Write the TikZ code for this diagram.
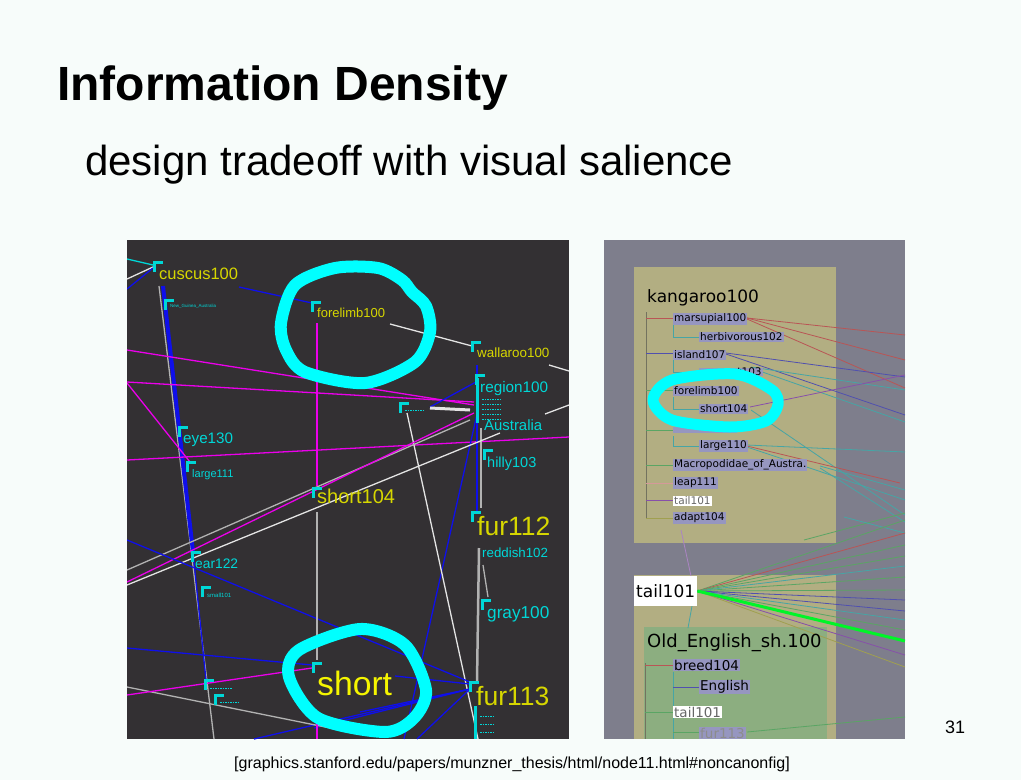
\documentclass[tikz,border=0pt]{standalone}
\usepackage{fontspec}
\setmainfont{Liberation Sans}
\newfontfamily\treefont{DejaVu Sans}
\usetikzlibrary{positioning}
\definecolor{slidebg}{RGB}{247,252,250}
\definecolor{darkpanel}{RGB}{51,48,51}
\definecolor{graypanel}{RGB}{126,126,140}
\definecolor{khaki}{RGB}{178,174,130}
\definecolor{sage}{RGB}{140,174,128}
\definecolor{lavbox}{RGB}{150,150,192}
\definecolor{ringcyan}{RGB}{0,255,255}
\definecolor{labcyan}{RGB}{0,215,215}
\definecolor{labyellow}{RGB}{215,215,0}
\definecolor{shortyellow}{RGB}{245,245,0}
\definecolor{linkblue}{RGB}{15,15,235}
\definecolor{linkpink}{RGB}{235,0,235}
\definecolor{linkwhite}{RGB}{228,228,228}
\definecolor{linkgray}{RGB}{178,178,178}
\definecolor{treered}{RGB}{185,85,85}
\definecolor{treeblue}{RGB}{80,80,175}
\definecolor{treeteal}{RGB}{70,165,165}
\definecolor{treegreen}{RGB}{90,165,100}
\definecolor{treepurple}{RGB}{135,80,170}
\definecolor{treeolive}{RGB}{160,160,80}
\definecolor{treestem}{RGB}{115,115,95}
\definecolor{hotgreen}{RGB}{0,245,40}
\tikzset{
  vlab/.style={anchor=base west,inner sep=0pt,text=#1},
  vlab/.default=labcyan,
  px/.style={font=\fontsize{#1}{#1}\selectfont},
  treelab/.style={anchor=west,fill=lavbox,inner xsep=1pt,inner ysep=0.5pt,
    font=\treefont\fontsize{10.5}{11}\selectfont,text=black},
  bigtree/.style={font=\treefont\fontsize{13.5}{14}\selectfont},
  ring/.style={draw=ringcyan,line width=12pt,line join=round},
  link/.style={draw=#1,line width=1.3pt},
  link/.default=linkblue,
  twig/.style={draw=#1,line width=0.8pt},
  twig/.default=treestem,
  % pictograms
  pics/corner/.style={code={
    \draw[labcyan,line width=3pt] (0,10) -- (0,0) -- (9,0);
  }},
}

\begin{document}
\begin{tikzpicture}[x=1pt,y=-1pt]
  \useasboundingbox (0,0) rectangle (1021,780);
  \fill[slidebg] (0,0) rectangle (1021,780);
  \node[anchor=base west,inner sep=0pt,font=\bfseries\fontsize{48}{50}\selectfont] (title) at (57,100) {Information Density};
  \node[anchor=base west,inner sep=0pt,font=\fontsize{42}{44}\selectfont] (subtitle) at (85,175) {design tradeoff with visual salience};

  % left view: dark graph
  \begin{scope}
    \clip (127,240) rectangle (569,739);
    \fill[darkpanel] (127,240) rectangle (569,739);
    \draw[link=labcyan] (127,259) -- (153,265);
    \draw[link=linkwhite] (127,279) -- (153,267);
    \draw[link] (127,289) -- (153,268);
    \draw[link=linkgray] (159,286) -- (214,739);
    \draw[linkblue,line width=4pt] (163,286) -- (193,552);
    \draw[link] (193,552) -- (206,680);
    \draw[link] (239,287) -- (312,303);
    \draw[link=linkpink] (317,323) -- (317,486);
    \draw[link=linkwhite] (390,324) -- (472,346);
    \draw[link=linkwhite] (549,365) -- (569,371);
    \draw[link=linkpink] (127,350) -- (474,405);
    \draw[link=linkpink] (127,382) -- (474,402);
    \draw[link=linkpink] (127,383) -- (190,462);
    \draw[link=linkpink] (127,460) -- (569,437);
    \draw[link] (430,407) -- (476,382);
    \draw[link] (477,365) -- (477,512);
    \draw[link=linkgray] (481,428) -- (481,508);
    \draw[link] (477,414) -- (404,739);
    \draw[link=linkwhite] (407,413) -- (478,739);
    \draw[linkwhite,line width=3pt] (430,408) -- (470,410);
    \draw[link=linkgray] (127,570) -- (470,420);
    \draw[link=linkpink] (127,582) -- (474,413);
    \draw[link=linkwhite] (127,585) -- (500,433);
    \draw[link=linkwhite] (545,414) -- (569,405);
    \draw[link] (127,540) -- (470,682);
    \draw[link] (127,648) -- (312,665);
    \draw[link] (395,676) -- (470,684);
    \foreach \p in {(254,739),(314,728),(360,712),(417,739)}
      \draw[link] \p -- (470,689);
    \draw[link=linkgray] (127,687) -- (340,730);
    \draw[link=linkpink] (127,695) -- (312,668);
    \draw[link=linkgray] (317,512) -- (317,660);
    \draw[link=linkpink] (317,712) -- (317,739);
    \draw[linkgray,line width=2.5pt] (479,548) -- (477,682);
    \draw[link=linkgray] (483,565) -- (488,597);
    % markers
    \foreach \p in {(154,262),(312,302),(472,342),(476,375),(484,450),(179,427),
      (187,462),(313,488),(472,512),(482,600),(192,552),(313,663),(470,682),
      (165,300),(202,587),(205,680),(215,695),(400,403)}
      \pic at \p {corner};
    \draw[labcyan,line width=3pt] (477,378) -- (477,423);
    \draw[labcyan,line width=3pt] (475,706) -- (475,739);
    \foreach \y in {399,404,409,414,419}
      \draw[labcyan,line width=1pt,dash pattern=on 1.5pt off 1pt] (482,\y) -- (500,\y);
    \foreach \y in {716,724,732}
      \draw[labcyan,line width=1pt,dash pattern=on 1.5pt off 1pt] (480,\y) -- (495,\y);
    \draw[labcyan,line width=1pt,dash pattern=on 1.5pt off 1pt] (405,410) -- (425,410);
    \draw[labcyan,line width=1pt,dash pattern=on 1.5pt off 1pt] (210,688) -- (232,688);
    \draw[labcyan,line width=1pt,dash pattern=on 1.5pt off 1pt] (220,702) -- (238,702);
    % labels
    \node[vlab=labyellow,px=16.5] (cuscus) at (159,279) {cuscus100};
    \node[vlab,px=4.5] (guinea) at (170,307) {New\_Guinea\_Australia};
    \node[vlab=labyellow,px=13] (forelimb) at (317,317) {forelimb100};
    \node[vlab=labyellow,px=13.4] (wallaroo) at (477,357) {wallaroo100};
    \node[vlab,px=15.3] (region) at (480,392) {region100};
    \node[vlab,px=14.9] (australia) at (484,430) {Australia};
    \node[vlab,px=14.5] (hilly) at (487,467) {hilly103};
    \node[vlab,px=15.2] (eye) at (183,443) {eye130};
    \node[vlab,px=11] (largeone) at (192,477) {large111};
    \node[vlab=labyellow,px=20] (shortfour) at (317,503) {short104};
    \node[vlab=labyellow,px=26.5] (furtwelve) at (477,535) {fur112};
    \node[vlab,px=13.3] (reddish) at (482,557) {reddish102};
    \node[vlab,px=17.2] (gray) at (487,618) {gray100};
    \node[vlab,px=13.8] (ear) at (195,568) {ear122};
    \node[vlab,px=6] (small) at (207,597) {small101};
    \node[vlab=shortyellow,px=33.7] (short) at (317,695) {short};
    \node[vlab=labyellow,px=26.5] (furthirteen) at (476,705) {fur113};
    % hand drawn rings
    \draw[ring] plot[smooth cycle] coordinates {(281,323) (295,285) (335,268)
      (378,268) (402,280) (412,292) (426,306) (430,332) (415,362) (365,383)
      (305,372) (286,350)};
    \draw[ring] plot[smooth cycle] coordinates {(289,677) (299,650) (360,629)
      (405,645) (426,690) (414,718) (385,732) (318,718)};
  \end{scope}

  % right view: nested boxes
  \begin{scope}
    \clip (604,240) rectangle (905,739);
    \fill[graypanel] (604,240) rectangle (905,739);
    \fill[khaki] (634,267) rectangle (836,543);
    \fill[khaki] (634,575) rectangle (836,739);
    \fill[sage] (644,627) rectangle (827,739);
    % cross links
    \draw[twig=treered] (747,318) -- (905,335);
    \draw[twig=treered] (747,318) -- (905,360);
    \draw[twig=treered] (747,319) -- (905,388);
    \draw[twig=treeblue] (726,353) -- (905,377);
    \draw[twig=treeblue] (726,354) -- (905,415);
    \draw[twig=treeteal] (751,367) -- (905,390);
    \draw[twig=treeteal] (751,368) -- (905,422);
    \draw[twig=treepurple] (750,407) -- (905,375);
    \draw[twig=treeteal] (751,410) -- (905,515);
    \draw[twig=treeteal] (747,445) -- (905,452);
    \draw[twig=treered] (747,446) -- (900,483);
    \draw[twig=treeteal] (747,447) -- (905,500);
    \draw[twig=treeteal] (820,466) -- (905,490);
    \draw[twig=treeteal] (820,468) -- (905,522);
    \draw[twig=treegreen] (804,540) -- (905,513);
    \draw[twig=treeteal] (844,517) -- (905,533);
    \draw[twig=treepurple!70] (681,530) -- (691,576);
    \draw[twig=treeteal] (692,606) -- (688,628);
    % tree of kangaroo100
    \draw[twig] (646,312) -- (646,519);
    \foreach \y/\c in {318/treered,353/treeblue,390/treegreen,430/treegreen,
      465/treegreen,483/treered!60,500/treepurple,518/treeolive}
      \draw[twig=\c] (646,\y) -- (674,\y);
    \foreach \a/\b in {325/337,360/372,397/409,436/446}
      \draw[twig=treeteal] (673,\a) -- (673,\b) -- (700,\b);
    \node[anchor=base west,inner sep=0pt,font=\treefont\fontsize{17}{17}\selectfont] (kangaroo) at (647,302) {kangaroo100};
    \node[treelab] (marsupial) at (673,319) {marsupial100};
    \node[treelab] (herbivorous) at (699,337) {herbivorous102};
    \node[treelab] (island) at (673,355) {island107};
    \node[treelab] (tonethree) at (699,372) {\phantom{xxxxxx}t103};
    \node[treelab] (forelimbr) at (673,391) {forelimb100};
    \node[treelab] (shortr) at (699,409) {short104};
    \node[treelab] (hind) at (673,430) {\phantom{xxxxxxxxxx}};
    \node[treelab] (large) at (699,446) {large110};
    \node[treelab] (macro) at (673,465) {Macropodidae\_of\_Austra.};
    \node[treelab] (leap) at (673,483) {leap111};
    \node[treelab,fill=white,text=black!60] (tail) at (673,501) {tail101};
    \node[treelab] (adapt) at (673,518) {adapt104};
    % fan out of tail101
    \node[anchor=west,fill=white,inner xsep=2pt,minimum height=30pt,
      font=\treefont\fontsize{17}{17}\selectfont] (tailbig) at (634,591) {tail101};
    \foreach \y/\c in {520/treegreen,533/treered,545/treegreen,556/treegreen,
      566/treeteal,577/treegreen,590/treegreen,600/treeblue,611/treeblue,
      620/treeteal,630/treegreen,655/treepurple,667/treeolive}
      \draw[twig=\c] (tailbig.east) -- (905,\y);
    \draw[hotgreen,line width=3pt] (tailbig.east) -- (905,641);
    % tree of Old_English_sh.100
    \node[anchor=base west,inner sep=0pt,font=\treefont\fontsize{18}{18}\selectfont] (oldenglish) at (647,647) {Old\_English\_sh.100};
    \draw[twig] (645,663) -- (645,739);
    \draw[twig=treered] (645,665) -- (674,665);
    \draw[twig=treegreen] (645,712) -- (674,712);
    \draw[twig=treeteal] (673,672) -- (673,739);
    \draw[twig=treeblue] (673,687) -- (700,687);
    \draw[twig=treegreen] (673,732) -- (700,732);
    \draw[twig=treegreen] (747,732) -- (905,717);
    \node[treelab,bigtree] (breed) at (673,665) {breed104};
    \node[treelab,bigtree] (english) at (699,687) {English};
    \node[treelab,bigtree,fill=white,text=black!60] (taillow) at (673,712) {tail101};
    \node[treelab,bigtree,text=black!45] (furlow) at (699,733) {fur113};
    % hand drawn ring
    \draw[ring,line width=11pt] plot[smooth cycle] coordinates {(653,400) (672,380)
      (735,374) (772,390) (778,405) (766,421) (730,427) (672,420)};
  \end{scope}

  \node[anchor=base,inner sep=0pt,font=\fontsize{16}{18}\selectfont] (source) at (512,768) {[graphics.stanford.edu/papers/munzner\_thesis/html/node11.html\#noncanonfig]};
  \node[anchor=base west,inner sep=0pt,font=\fontsize{18}{18}\selectfont] (pagenum) at (945,733) {31};
\end{tikzpicture}
\end{document}
